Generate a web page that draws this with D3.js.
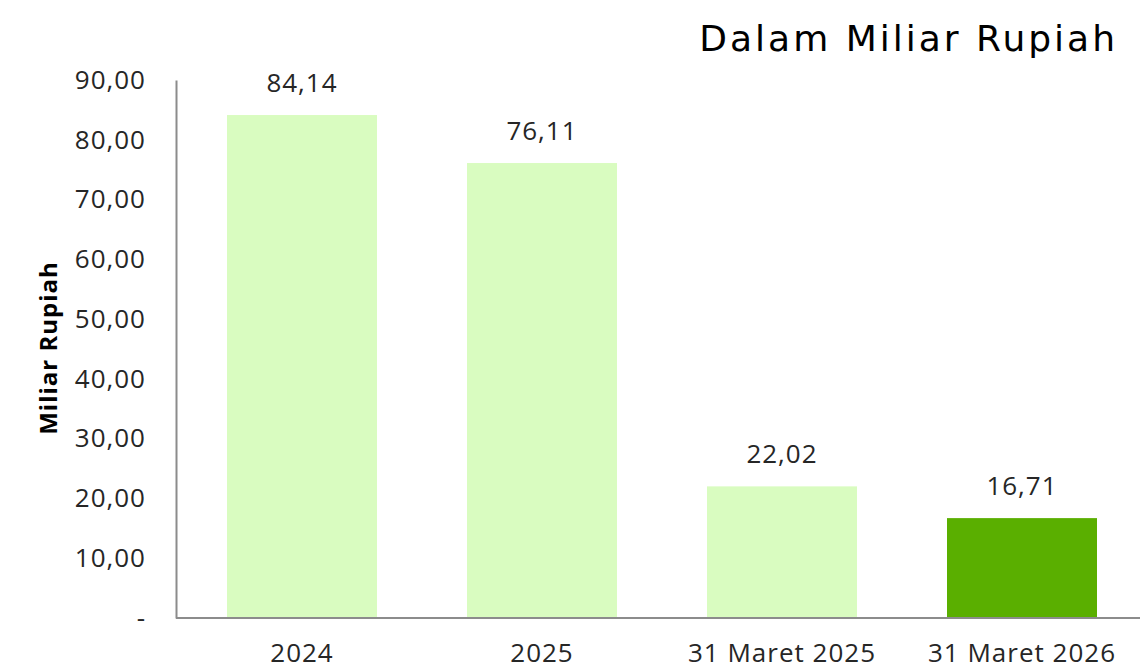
<!DOCTYPE html>
<html>
<head>
<meta charset="utf-8">
<script src="https://cdn.jsdelivr.net/npm/d3@7"></script>
<style>
  body { margin: 0; background: #fff; }
  svg { display: block; }
  text { font-family: "Open Sans", sans-serif; fill: #262626; }
</style>
</head>
<body>
<svg id="chart"></svg>
<script>
// data
const categories = ["2024", "2025", "31 Maret 2025", "31 Maret 2026"]
const values = [84.14, 76.11, 22.02, 16.71]
const barColors = ["#d9fcc0", "#d9fcc0", "#d9fcc0", "#5aaf00"]
const yTicks = [0, 10, 20, 30, 40, 50, 60, 70, 80, 90]

const width = 1145
const height = 672

const svg = d3.select("#chart")
    .attr("width", width)
    .attr("height", height)

const fmt = (v) => v === 0 ? "-" : v.toFixed(2).replace(".", ",")

var x = d3.scaleBand()
    .domain(categories)
    .range([182, 1142])
    .paddingInner(0.375)
    .paddingOuter(0.1875)

var y = d3.scaleLinear()
    .domain([0, 90])
    .range([618, 80])

// bars
svg.append("g")
    .selectAll("rect")
    .data(values)
    .enter()
    .append("rect")
    .attr("x", (d, i) => x(categories[i]))
    .attr("y", (d) => y(d))
    .attr("width", x.bandwidth())
    .attr("height", (d) => y(0) - y(d))
    .style("fill", (d, i) => barColors[i])

// value labels
svg.append("g")
    .selectAll("text")
    .data(values)
    .enter()
    .append("text")
    .attr("x", (d, i) => x(categories[i]) + x.bandwidth() / 2)
    .attr("y", (d) => y(d) - 23)
    .attr("text-anchor", "middle")
    .style("font-size", "26px")
    .style("letter-spacing", "1px")
    .text((d) => fmt(d))

// y axis
var yAxis = svg.append("g")
    .attr("transform", "translate(176,0)")
    .call(d3.axisLeft(y).tickValues(yTicks).tickSize(0).tickPadding(30).tickFormat(fmt))
yAxis.select(".domain").attr("stroke", "#8c8c8c").attr("stroke-width", 2)
yAxis.selectAll("text")
    .style("font-size", "26px")
    .style("letter-spacing", "1px")
    .attr("fill", "#262626")

// x axis
var xAxis = svg.append("g")
    .attr("transform", "translate(0,618)")
    .call(d3.axisBottom(x).tickSize(0).tickPadding(26))
xAxis.select(".domain")
    .attr("d", "M176,0H1140")
    .attr("stroke", "#8c8c8c")
    .attr("stroke-width", 2)
xAxis.selectAll("text")
    .style("font-size", "26px")
    .style("letter-spacing", "1px")
    .attr("fill", "#262626")

// axis title
svg.append("text")
    .attr("transform", "translate(57,348) rotate(-90)")
    .attr("text-anchor", "middle")
    .style("font-size", "24px")
    .style("letter-spacing", "1px")
    .style("font-weight", "bold")
    .style("fill", "#000")
    .text("Miliar Rupiah")

// unit note
svg.append("text")
    .attr("x", 1118)
    .attr("y", 51)
    .attr("text-anchor", "end")
    .style("font-family", "\"DejaVu Sans\", sans-serif")
    .style("font-size", "36px")
    .style("letter-spacing", "3px")
    .style("fill", "#000")
    .text("Dalam Miliar Rupiah")
</script>
</body>
</html>
